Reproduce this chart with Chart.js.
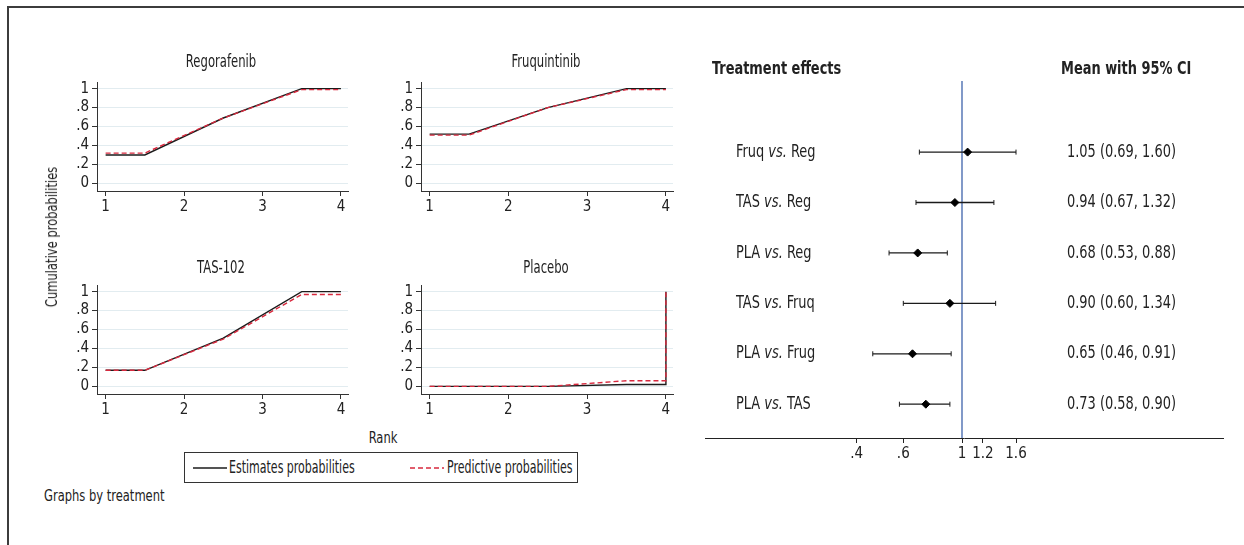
<!DOCTYPE html>
<html>
<head>
<meta charset="utf-8">
<script src="https://cdn.jsdelivr.net/npm/chart.js@4.4.1/dist/chart.umd.min.js"></script>
<style>
    body {margin: 0; width: 1244px; height: 545px; position: relative; overflow: hidden; background: #fff;
        font-family: "Liberation Sans Narrow", "DejaVu Sans Condensed", sans-serif; color: #222;}
    .frame {position: absolute; left: 7px; top: 6px; width: 1250px; height: 560px;
        border-left: 2px solid #3c3c3c; border-top: 2px solid #3c3c3c;}
    canvas {position: absolute;}
    .txt {position: absolute; white-space: nowrap; line-height: 1; font-size: 16px;}
    .c {transform: translate(-50%, -50%) scaleX(0.8);}
    .ttl {font-size: 17px; transform: translate(-50%, -50%) scaleX(0.76);}
    .legend {position: absolute; left: 184px; top: 452px; width: 394px; height: 31px; border: 1px solid #333;
        box-sizing: border-box; font-size: 17px;}
    .legend span {position: absolute; top: 5px; white-space: nowrap; line-height: 1.1;
        transform: scaleX(0.72); transform-origin: 0 50%;}
    .legend svg {position: absolute; top: 13px;}
</style>
</head>
<body>
<div class="frame"></div>

<canvas id="regChart" width="300" height="150" style="left:57px;top:70px"></canvas>
<canvas id="fruChart" width="301" height="150" style="left:381px;top:70px"></canvas>
<canvas id="tasChart" width="300" height="150" style="left:57px;top:273px"></canvas>
<canvas id="plaChart" width="301" height="150" style="left:381px;top:273px"></canvas>
<canvas id="forestChart" width="544" height="545" style="left:700px;top:0"></canvas>

<div class="txt ttl" style="left:221px;top:61px">Regorafenib</div>
<div class="txt ttl" style="left:546px;top:61px">Fruquintinib</div>
<div class="txt ttl" style="left:221px;top:267px">TAS-102</div>
<div class="txt ttl" style="left:546px;top:267px">Placebo</div>
<div class="txt" style="left:52px;top:237px;transform:translate(-50%,-50%) rotate(-90deg) scaleX(0.8)">Cumulative probabilities</div>
<div class="txt c" style="left:383px;top:438px">Rank</div>
<div class="txt" style="left:44px;top:488px;transform:scaleX(0.8);transform-origin:0 50%">Graphs by treatment</div>

<div class="legend">
    <svg width="34" height="4" style="left:8px"><line x1="0" y1="2" x2="34" y2="2" stroke="#1b1b1b" stroke-width="1.4"/></svg>
    <span style="left:44px">Estimates probabilities</span>
    <svg width="34" height="4" style="left:225px"><line x1="0" y1="2" x2="34" y2="2" stroke="#d8293e" stroke-width="1.4" stroke-dasharray="5,3"/></svg>
    <span style="left:262px">Predictive probabilities</span>
</div>

<script>
// cumulative rank probabilities (x = rank)
const rankX = [1, 1.5, 2.5, 3.5, 4, 4];
const regEst = [0.30, 0.30, 0.69, 1.00, 1.00, 1.00];
const regPred = [0.32, 0.32, 0.69, 0.99, 0.99, 0.99];
const fruEst = [0.52, 0.52, 0.80, 1.00, 1.00, 1.00];
const fruPred = [0.51, 0.51, 0.80, 0.99, 0.99, 0.99];
const tasEst = [0.17, 0.17, 0.51, 1.00, 1.00, 1.00];
const tasPred = [0.17, 0.17, 0.50, 0.97, 0.97, 0.97];
const plaEst = [0, 0, 0, 0.02, 0.02, 1.00];
const plaPred = [0, 0, 0, 0.06, 0.06, 1.00];
const rankTicks = [1, 2, 3, 4];
const probTicks = [0, 0.2, 0.4, 0.6, 0.8, 1];

// treatment effects, mean with 95% CI
const comparisons = ["Fruq vs. Reg", "TAS vs. Reg", "PLA vs. Reg", "TAS vs. Fruq", "PLA vs. Frug", "PLA vs. TAS"];
const means = [1.05, 0.94, 0.68, 0.90, 0.65, 0.73];
const lower = [0.69, 0.67, 0.53, 0.60, 0.46, 0.58];
const upper = [1.60, 1.32, 0.88, 1.34, 0.91, 0.90];
const effectTicks = [0.4, 0.6, 1, 1.2, 1.6];

const FONT = "'Liberation Sans Narrow', 'DejaVu Sans Condensed', sans-serif";
const INK = "#222";
const RED = "#d8293e";
const SQUEEZE = 0.8;

const shortNum = v => v === 0 ? "0" : (Number.isInteger(v) ? String(v) : String(v).replace(/^0/, ""));

function rankChart(id, est, pred) {
    new Chart(document.getElementById(id), {
        type: "line",
        data: {
            datasets: [{
                data: rankX.map((x, i) => ({x, y: pred[i]})),
                borderColor: RED,
                borderDash: [5, 3],
                borderWidth: 1.4,
                pointRadius: 0,
                order: 1
            }, {
                data: rankX.map((x, i) => ({x, y: est[i]})),
                borderColor: "#1b1b1b",
                borderWidth: 1.4,
                pointRadius: 0,
                order: 2
            }]
        },
        options: {
            responsive: false,
            animation: false,
            layout: {padding: {top: 6, right: 9}},
            plugins: {legend: {display: false}, tooltip: {enabled: false}},
            scales: {
                x: {
                    type: "linear", min: 0.89, max: 4.09,
                    afterBuildTicks: a => { a.ticks = rankTicks.map(value => ({value})); },
                    afterFit: s => { s.height = 29; },
                    grid: {drawOnChartArea: false, tickLength: 5, tickColor: "#333"},
                    border: {color: "#333"},
                    ticks: {color: INK, padding: 2, font: {family: FONT, size: 15}, callback: v => shortNum(v)}
                },
                y: {
                    min: -0.08, max: 1.07,
                    afterBuildTicks: a => { a.ticks = probTicks.map(value => ({value})); },
                    afterFit: s => { s.width = 40; },
                    grid: {color: "#e2ecf0", tickLength: 5, tickColor: "#333"},
                    border: {color: "#333"},
                    ticks: {color: INK, padding: 3, font: {family: FONT, size: 15}, callback: v => shortNum(v)}
                }
            }
        }
    });
}

rankChart("regChart", regEst, regPred);
rankChart("fruChart", fruEst, fruPred);
rankChart("tasChart", tasEst, tasPred);
rankChart("plaChart", plaEst, plaPred);

// condensed text, like the narrow face of the original
function narrowText(ctx, parts, x, y) {
    ctx.save();
    ctx.translate(x, y);
    ctx.scale(SQUEEZE, 1);
    let px = 0;
    parts.forEach(([text, font]) => {
        ctx.font = font;
        ctx.fillText(text, px, 0);
        px += ctx.measureText(text).width;
    });
    ctx.restore();
}

// text columns of the forest plot
const forestText = {
    id: "forestText",
    afterDraw(chart) {
        const {ctx, scales: {y}} = chart;
        const reg = `18px ${FONT}`, ita = `italic 18px ${FONT}`, bold = `bold 18px ${FONT}`;
        ctx.save();
        ctx.fillStyle = INK;
        ctx.textBaseline = "middle";
        narrowText(ctx, [["Treatment effects", bold]], 12, 69);
        narrowText(ctx, [["Mean with 95% CI", bold]], 361, 69);
        comparisons.forEach((c, i) => {
            const py = y.getPixelForValue(i + 1);
            const [a, b] = c.split(" vs. ");
            narrowText(ctx, [[a + " ", reg], ["vs.", ita], [" " + b, reg]], 36, py);
            const val = `${means[i].toFixed(2)} (${lower[i].toFixed(2)}, ${upper[i].toFixed(2)})`;
            narrowText(ctx, [[val, reg]], 367, py);
        });
        ctx.restore();
    }
};

const rowTop = -0.41, rowBottom = 6.67;
const ciSets = comparisons.map((c, i) => ({
    data: [{x: lower[i], y: i + 1}, {x: upper[i], y: i + 1}],
    borderColor: "#1b1b1b",
    borderWidth: 1.3,
    pointStyle: "line",
    rotation: 90,
    pointRadius: 2.5,
    pointBorderWidth: 1,
    pointBorderColor: "#1b1b1b"
}));

new Chart(document.getElementById("forestChart"), {
    type: "line",
    data: {
        datasets: [{
            type: "scatter",
            data: means.map((m, i) => ({x: m, y: i + 1})),
            pointStyle: "rectRot",
            pointRadius: 4,
            backgroundColor: "#000",
            borderColor: "#000",
            order: 0
        }, ...ciSets, {
            data: [{x: 1, y: rowTop}, {x: 1, y: rowBottom}],
            borderColor: "#2f57a4",
            borderWidth: 1.2,
            pointRadius: 0,
            order: 9
        }]
    },
    options: {
        responsive: false,
        animation: false,
        layout: {padding: {top: 81, right: 21}},
        plugins: {legend: {display: false}, tooltip: {enabled: false}},
        scales: {
            x: {
                type: "logarithmic", min: 0.1068, max: 9.695,
                afterBuildTicks: a => { a.ticks = effectTicks.map(value => ({value})); },
                afterFit: s => { s.height = 107; },
                grid: {drawOnChartArea: false, tickLength: 5, tickColor: "#222"},
                border: {color: "#222"},
                ticks: {color: INK, padding: 2, maxRotation: 0, autoSkip: false,
                    font: {family: FONT, size: 15}, callback: v => shortNum(v)}
            },
            y: {type: "linear", reverse: true, min: rowTop, max: rowBottom, display: false}
        }
    },
    plugins: [forestText]
});
</script>
</body>
</html>
